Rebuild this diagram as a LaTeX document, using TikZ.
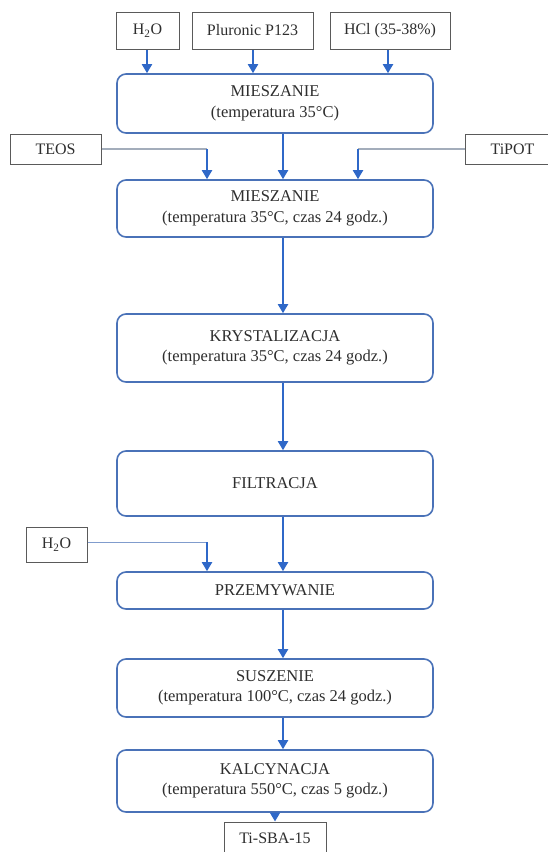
\documentclass[tikz,border=0pt]{standalone}
\usepackage{fontspec}
\setmainfont{Liberation Serif}
\usetikzlibrary{arrows.meta}
\definecolor{boxblue}{HTML}{4A72B8}
\definecolor{arrowblue}{HTML}{2F68C8}
\definecolor{feedgray}{HTML}{A3ADBB}
\definecolor{inbox}{HTML}{5A5A5A}
\tikzset{
  stage/.style={draw=boxblue, line width=1.6pt, rounded corners=9pt, fill=white,
    align=center, font=\fontsize{16.5}{20.5}\selectfont, text=black!82, inner sep=0pt},
  feed/.style={draw=inbox, line width=1pt, fill=white, align=center,
    font=\fontsize{16}{18}\selectfont, text=black!82, inner sep=0pt},
  flow/.style={draw=arrowblue, line width=1.9pt, -{Triangle[width=10pt,length=9pt]}},
  sideline/.style={draw=feedgray, line width=1.3pt},
}
\newcommand{\stagebox}[6]{% name, x1, y1, x2, y2, text
  \node[stage, minimum width={(#4-#2)*1pt}, minimum height={(#5-#3)*1pt}]
    (#1) at ({(#2+#4)/2}, {(#3+#5)/2}) {#6};}
\newcommand{\feedbox}[6]{%
  \node[feed, minimum width={(#4-#2)*1pt}, minimum height={(#5-#3)*1pt}]
    (#1) at ({(#2+#4)/2}, {(#3+#5)/2}) {#6};}
\begin{document}
\begin{tikzpicture}[x=1pt, y=-1pt]
  \useasboundingbox (0,0) rectangle (548,852);
  \fill[white] (0,0) rectangle (548,852);
  \begin{scope}
  \clip (0,0) rectangle (548,852);
  % raw materials
  \feedbox{water}{116}{12}{179}{49}{H\textsubscript{2}O}
  \feedbox{pluronic}{192}{12}{313}{49}{Pluronic P123}
  \feedbox{hcl}{330}{12}{450}{49}{HCl (35-38\%)}
  \feedbox{teos}{10}{134}{101}{164}{TEOS}
  \feedbox{tipot}{465}{134}{560}{164}{TiPOT}
  \feedbox{water2}{26}{527}{87}{562}{H\textsubscript{2}O}
  \feedbox{product}{224}{822}{326}{862}{}
  \node[font=\fontsize{16}{18}\selectfont, text=black!82] (productlabel) at (275,838) {Ti-SBA-15};
  \end{scope}
  % process stages
  \stagebox{mix1}{117}{74}{433}{133}{MIESZANIE\\(temperatura 35°C)}
  \stagebox{mix2}{117}{180}{433}{237}{MIESZANIE\\(temperatura 35°C, czas 24 godz.)}
  \stagebox{cryst}{117}{314}{433}{382}{KRYSTALIZACJA\\(temperatura 35°C, czas 24 godz.)}
  \stagebox{filt}{117}{451}{433}{516}{FILTRACJA}
  \stagebox{wash}{117}{572}{433}{609}{PRZEMYWANIE}
  \stagebox{dry}{117}{659}{433}{717}{SUSZENIE\\(temperatura 100°C, czas 24 godz.)}
  \stagebox{calc}{117}{750}{433}{812}{KALCYNACJA\\(temperatura 550°C, czas 5 godz.)}
  % feeds into the first mixing step
  \draw[flow] (water.south -| 147,0) -- (mix1.north -| 147,0);
  \draw[flow] (pluronic.south -| 253,0) -- (mix1.north -| 253,0);
  \draw[flow] (hcl.south -| 388,0) -- (mix1.north -| 388,0);
  % silica and titanium sources
  \coordinate (teosturn) at (207,149);
  \coordinate (tipotturn) at (358,149);
  \draw[sideline] (teos.east |- teosturn) -- (teosturn);
  \draw[flow] (teosturn) -- (mix2.north -| teosturn);
  \draw[sideline] (tipot.west |- tipotturn) -- (tipotturn);
  \draw[flow] (tipotturn) -- (mix2.north -| tipotturn);
  % main line
  \draw[flow] (mix1.south -| 283,0) -- (mix2.north -| 283,0);
  \draw[flow] (mix2.south -| 283,0) -- (cryst.north -| 283,0);
  \draw[flow] (cryst.south -| 283,0) -- (filt.north -| 283,0);
  \draw[flow] (filt.south -| 283,0) -- (wash.north -| 283,0);
  \draw[flow] (wash.south -| 283,0) -- (dry.north -| 283,0);
  \draw[flow] (dry.south -| 283,0) -- (calc.north -| 283,0);
  \draw[flow] (calc.south -| 275,0) -- (product.north -| 275,0);
  % washing water
  \coordinate (waterturn) at (207,542);
  \draw[sideline, draw=boxblue!70, line width=1pt] (water2.east |- waterturn) -- (waterturn);
  \draw[flow] (waterturn) -- (wash.north -| waterturn);
\end{tikzpicture}
\end{document}
